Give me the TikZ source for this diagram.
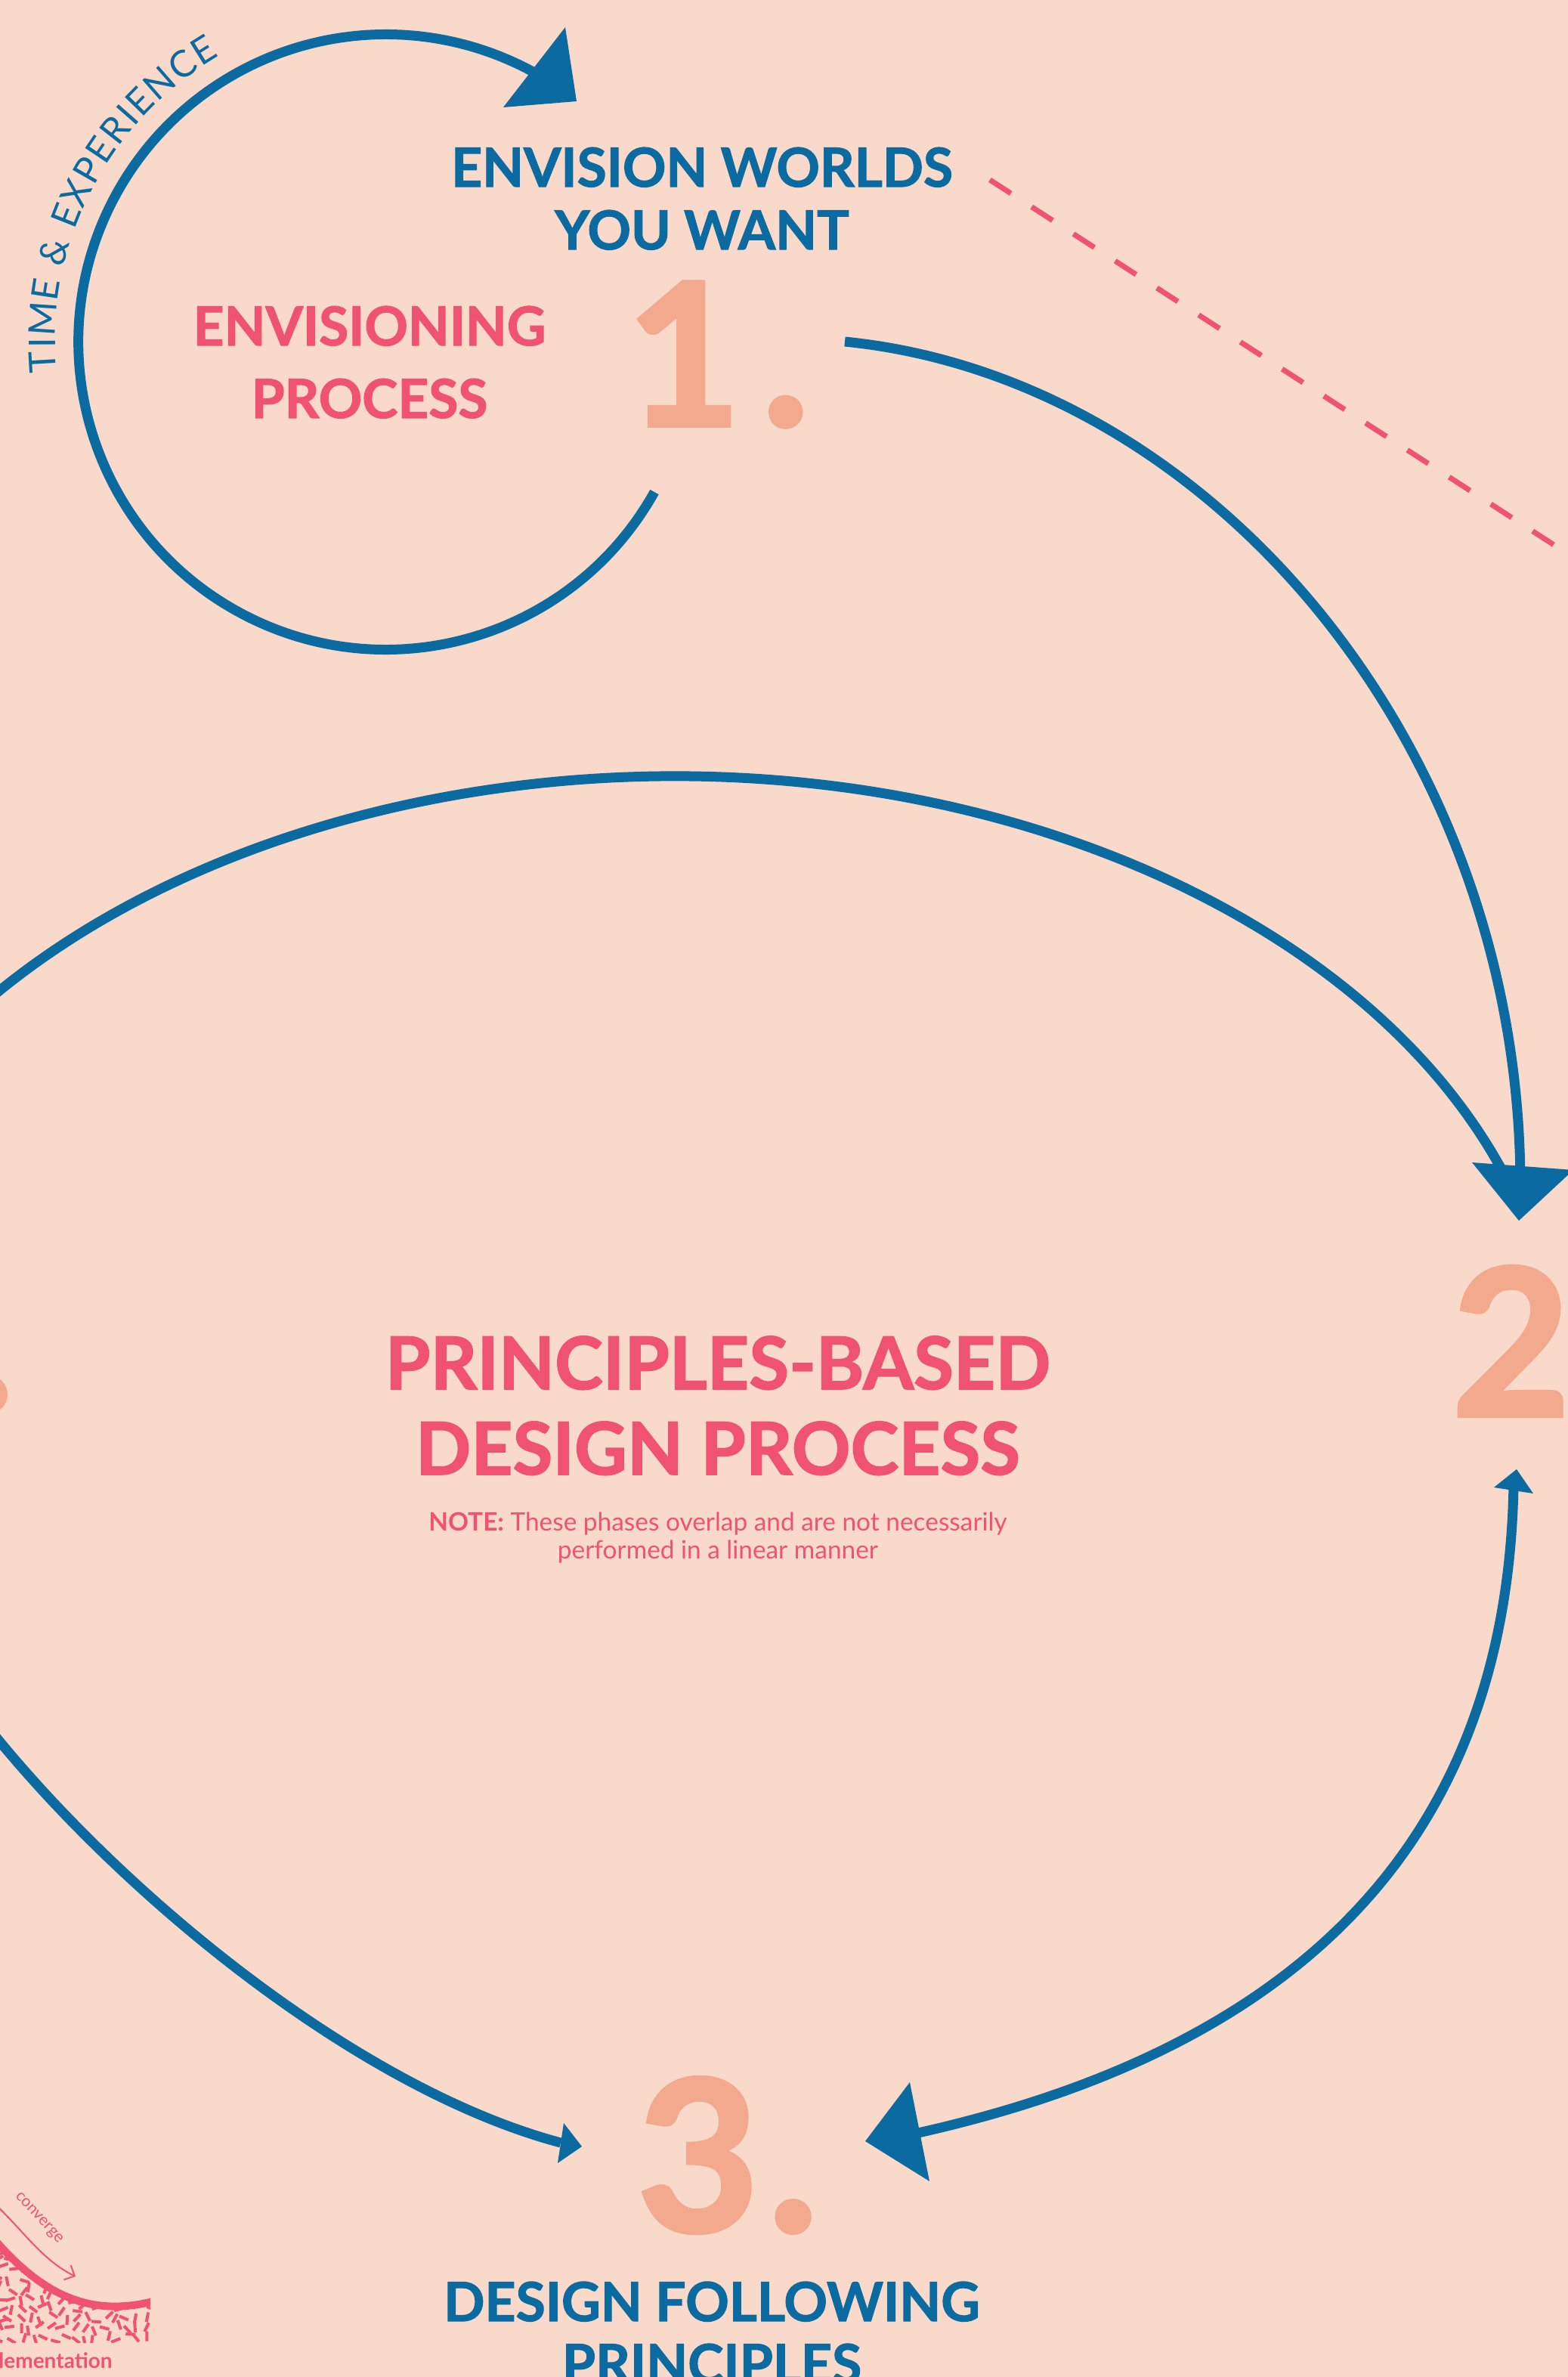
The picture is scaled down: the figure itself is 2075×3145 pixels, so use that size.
\documentclass[tikz,border=0pt]{standalone}
\usepackage{fontspec}
\setmainfont{Lato}
\newfontfamily\hfont{Lato}[BoldFeatures={FakeBold=1.6}]
\newfontfamily\nfont{Lato}[BoldFeatures={FakeBold=2.2}]
\usetikzlibrary{arrows.meta}
\definecolor{bg}{HTML}{F9D9CA}
\definecolor{cblue}{HTML}{0B6BA1}
\definecolor{cpink}{HTML}{EF5371}
\definecolor{csalmon}{HTML}{F2A98D}
\begin{document}
\begin{tikzpicture}[x=0.5pt,y=0.5pt,
  conn/.style={draw=cblue,line width=6.5pt},
  headfill/.style={fill=cblue},
  numtxt/.style={text=csalmon,inner sep=0pt},
  bluehead/.style={text=cblue,inner sep=0pt,align=center},
  pinkhead/.style={text=cpink,inner sep=0pt,align=center},
  arcletter/.style={text=cblue,inner sep=0pt,anchor=base,font=\fontsize{24.4}{24.4}\selectfont},
]
\useasboundingbox (0,0) rectangle (2075,-3145);
\fill[bg] (0,0) rectangle (2075,-3145);
\begin{scope}
\clip (0,0) rectangle (2075,-3145);

% ---------- texts (anchor = baseline of last line) ----------
\node[bluehead,anchor=base,font=\hfont\bfseries\fontsize{35.6}{41.5}\selectfont] (envw) at (929,-330) {ENVISION WORLDS\\YOU WANT};
\node[pinkhead,anchor=base,font=\hfont\bfseries\fontsize{35.6}{48}\selectfont] (envp) at (489,-553) {ENVISIONING\\PROCESS};
\node[pinkhead,anchor=base,font=\hfont\bfseries\fontsize{48.1}{56.5}\selectfont] (pbd) at (950,-1951) {PRINCIPLES-BASED\\DESIGN PROCESS};
\node[pinkhead,anchor=base,font=\fontsize{16.7}{18.5}\selectfont] (note) at (950,-2062) {\textbf{NOTE:} These phases overlap and are not necessarily\\performed in a linear manner};
\node[bluehead,anchor=base,font=\hfont\bfseries\fontsize{35.7}{41}\selectfont] (dfp) at (942,-3153) {DESIGN FOLLOWING\\PRINCIPLES};

% ---------- numbers ----------
\node[numtxt,anchor=base,font=\nfont\bfseries\fontsize{131}{131}\selectfont] (n1) at (950,-563) {1\kern14pt.};
\node[numtxt,anchor=base west,font=\nfont\bfseries\fontsize{135}{135}\selectfont] (n2) at (1921,-1873) {2};
\node[numtxt,anchor=base,font=\nfont\bfseries\fontsize{139}{139}\selectfont] (n3) at (963,-2952) {3\kern6pt.};
\fill[csalmon] (-17,-1845) ellipse [x radius=27, y radius=26];

% ---------- loop (time & experience) ----------
\coordinate (lc) at (510,-452);
\coordinate (ls) at (866,-651);
\draw[conn] (ls) arc[start angle=-29.2,end angle=-305,radius=407];
\fill[headfill] (748,-36) -- (763,-134) -- (666,-142) -- cycle;
\foreach \a/\ch in {183.42/T,180.26/I,176.19/M,171.29/E,164.85/\&,158.43/E,154.35/X,150.06/P,145.98/E,141.92/R,138.68/I,135.68/E,131.15/N,126.24/C,122.0/E}{
  \node[arcletter,rotate=\a-90] at ([shift={(\a:437)}]lc) {\ch};
}

% ---------- dashed line ----------
\coordinate (d1) at (1310,-238);
\coordinate (d2) at (2058,-722);
\draw[cpink,line width=3.5pt,dash pattern=on 16.5pt off 16.4pt] (d1) -- (d2);

% ---------- connectors ----------
\coordinate (a1) at (1118,-452);
\coordinate (a2) at (2012,-1570);
\draw[conn] (a1) .. controls (1600,-500) and (2012,-985) .. (a2);
\draw[conn] (892,-1830) ++(150:1170 and 803) arc[start angle=150,end angle=19,x radius=1170,y radius=803];
\fill[headfill] (2010,-1615) -- (1948,-1538) -- (2082,-1548) -- cycle;

\coordinate (b1) at (2003,-1965);
\coordinate (b2) at (1215,-2822);
\draw[conn] (b1) .. controls (1995,-2400) and (1760,-2700) .. (b2);
\fill[headfill] (2007,-1944) -- (1977,-1968) -- (2029,-1976) -- cycle;
\fill[headfill] (1145,-2833) -- (1204,-2755) -- (1230,-2886) -- cycle;

\coordinate (c1) at (-40,-2254);
\coordinate (c2) at (742,-2835);
\draw[conn] (c1) .. controls (130,-2480) and (460,-2760) .. (c2);
\fill[headfill] (770,-2840) -- (746,-2809) -- (738,-2862) -- cycle;

% ---------- bottom-left implementation graphic ----------
\begin{scope}
\clip (0,-2880) rectangle (199,-3100);
\begin{scope}
\clip (-30,-2935) .. controls (50,-3040) and (120,-3068) .. (210,-3043) -- (210,-3100) -- (-30,-3100) -- cycle;
\pgfmathsetseed{12}
\foreach \i in {0,...,15}{
  \foreach \j in {0,...,11}{
    \pgfmathsetmacro\cx{\i*14+rand*5}
    \pgfmathsetmacro\cy{-2950-\j*13+rand*5}
    \pgfmathsetmacro\ang{rnd*180}
    \draw[cpink,line width=2pt] (\cx,\cy) ++(\ang:6.5) -- ++(\ang+180:13);
  }
}
\end{scope}
\draw[cpink,line width=5pt] (-30,-2935) .. controls (50,-3040) and (120,-3068) .. (210,-3043);
\end{scope}
\coordinate (cv1) at (-10,-2913);
\coordinate (cv2) at (100,-3012);
\draw[cpink,line width=1pt,-{Straight Barb[length=5.3pt,width=10.6pt]}] (cv1) .. controls (30,-2950) and (55,-2990) .. (cv2);
\node[text=cpink,inner sep=0pt,rotate=-47,font=\fontsize{10.5}{10.5}\selectfont] (conv) at (51,-2935) {converge};
\node[text=cpink,inner sep=0pt,anchor=base west,font=\bfseries\fontsize{14}{14}\selectfont] (impl) at (-2,-3133) {lementation};
\end{scope}
\end{tikzpicture}
\end{document}
